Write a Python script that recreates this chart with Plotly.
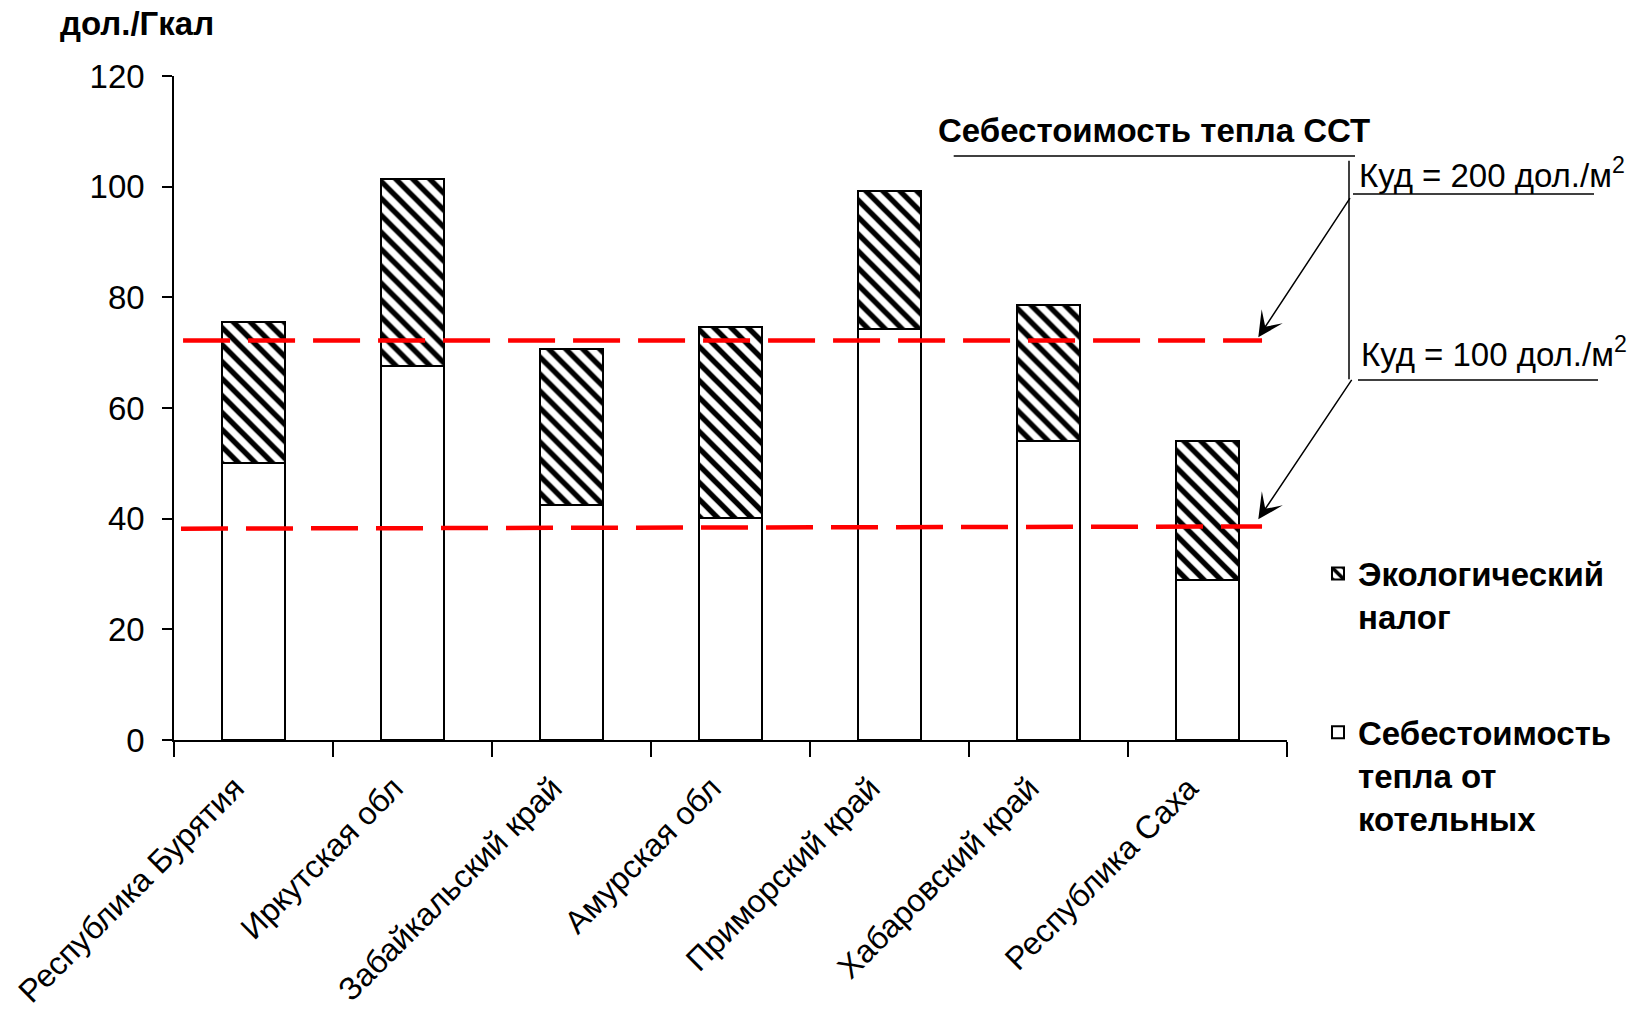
import plotly.graph_objects as go

# ---------------- data ----------------
regions = ["Республика Бурятия", "Иркутская обл", "Забайкальский край",
           "Амурская обл", "Приморский край", "Хабаровский край", "Республика Саха"]
boiler_cost = [50.0, 67.6, 42.5, 40.2, 74.3, 54.1, 29.0]
eco_tax = [25.6, 33.7, 28.2, 34.5, 24.9, 24.5, 25.0]
cud200_level = [72.2, 72.2]    # start / end of the line
cud100_level = [38.2, 38.6]
y_ticks = [0, 20, 40, 60, 80, 100, 120]

name_boiler = "<b>Себестоимость<br>тепла от<br>котельных</b>"
name_tax = "<b>Экологический<br>налог</b>"
y_title = "<b>дол./Гкал</b>"
sst_title = "<b>Себестоимость тепла ССТ</b>"
cud200_text = "Куд = 200 дол./м<sup>2</sup>"
cud100_text = "Куд = 100 дол./м<sup>2</sup>"

FONT = "Liberation Sans, Arial, sans-serif"
FS = 33
W, H = 1632, 1010
L, R, T, B = 174, 345, 76, 270
PW, PH = W - L - R, H - T - B


def px(x):
    return (x - L) / PW


def py(y):
    return (H - B - y) / PH


# trailing no-break spaces nudge the rotated labels to sit left of each tick
tick_text = [r + "\u00a0\u00a0\u00a0" for r in regions]

fig = go.Figure()
fig.add_trace(go.Bar(
    x=regions, y=boiler_cost, name=name_boiler, legendgroup="b", legendrank=2,
    width=0.4, marker=dict(color="white", line=dict(color="black", width=2)),
))
fig.add_trace(go.Bar(
    x=regions, y=eco_tax, name=name_tax, legendgroup="t", legendrank=1,
    width=0.4,
    marker=dict(color="white", line=dict(color="black", width=2),
                pattern=dict(shape="\\", fgcolor="black", bgcolor="white",
                             fgopacity=1, size=12, solidity=0.45)),
))

shapes = []
# red dashed levels (category index coordinates)
for lev, xs in ((cud200_level, (-0.443, 6.343)), (cud100_level, (-0.456, 6.343))):
    shapes.append(dict(type="line", xref="x", yref="y", x0=xs[0], x1=xs[1],
                       y0=lev[0], y1=lev[1], layer="above",
                       line=dict(color="#FF0000", width=4.5, dash="47px,18px")))

# leader lines in paper coords
for (x0, y0, x1, y1) in [(953.7, 156, 1355, 156), (1349, 160.7, 1349, 379.3),
                         (1353, 194, 1594, 194), (1358, 380, 1598, 380)]:
    shapes.append(dict(type="line", xref="paper", yref="paper",
                       x0=px(x0), y0=py(y0), x1=px(x1), y1=py(y1),
                       line=dict(color="black", width=1.5)))

annotations = []


def text_ann(text, left, baseline, size):
    annotations.append(dict(text=text, xref="paper", yref="paper",
                            x=px(left), y=py(baseline - 0.35 * size),
                            xanchor="left", yanchor="middle", showarrow=False,
                            font=dict(family=FONT, size=size, color="black")))


text_ann(y_title, 58, 35, FS)
text_ann(sst_title, 936, 142, FS)
text_ann(cud200_text, 1357, 185, FS)
text_ann(cud100_text, 1359, 364, FS)

for tip, tail in [((1258.3, 337.3), (1351, 196.7)), ((1258.3, 519.3), (1352.7, 378.3))]:
    annotations.append(dict(text="", xref="paper", yref="paper",
                            x=px(tip[0]), y=py(tip[1]),
                            ax=tail[0] - tip[0], ay=tail[1] - tip[1],
                            showarrow=True, arrowhead=3, arrowsize=2.8,
                            arrowwidth=1.5, arrowcolor="black", standoff=0))

fig.update_layout(
    width=W, height=H, margin=dict(l=L, r=R, t=T, b=B, autoexpand=False),
    paper_bgcolor="white", plot_bgcolor="white",
    barmode="stack", bargap=0.6,
    font=dict(family=FONT, size=FS, color="black"),
    showlegend=True,
    legend=dict(x=px(1318), xanchor="left", y=py(545.5), yanchor="top",
                traceorder="grouped", valign="top",
                tracegroupgap=70, font=dict(family=FONT, size=FS, color="black"),
                bgcolor="rgba(0,0,0,0)"),
    shapes=shapes, annotations=annotations,
    xaxis=dict(type="category", range=[-0.5, 6.5], showline=True, linecolor="black",
               linewidth=1.5, ticks="outside", tickson="boundaries", ticklen=15,
               tickwidth=1.5, tickcolor="black", tickangle=-45, showgrid=False,
               tickvals=regions, ticktext=tick_text,
               ticklabelstandoff=-4, automargin=False,
               tickfont=dict(family=FONT, size=32, color="black")),
    yaxis=dict(range=[0, 120], tickvals=y_ticks, showline=True, linecolor="black",
               linewidth=1.5, ticks="outside", ticklen=10, tickwidth=1.5,
               tickcolor="black", showgrid=False, zeroline=False,
               ticklabelstandoff=11, automargin=False,
               tickfont=dict(family=FONT, size=FS, color="black")),
)

fig.write_html("out.html")
